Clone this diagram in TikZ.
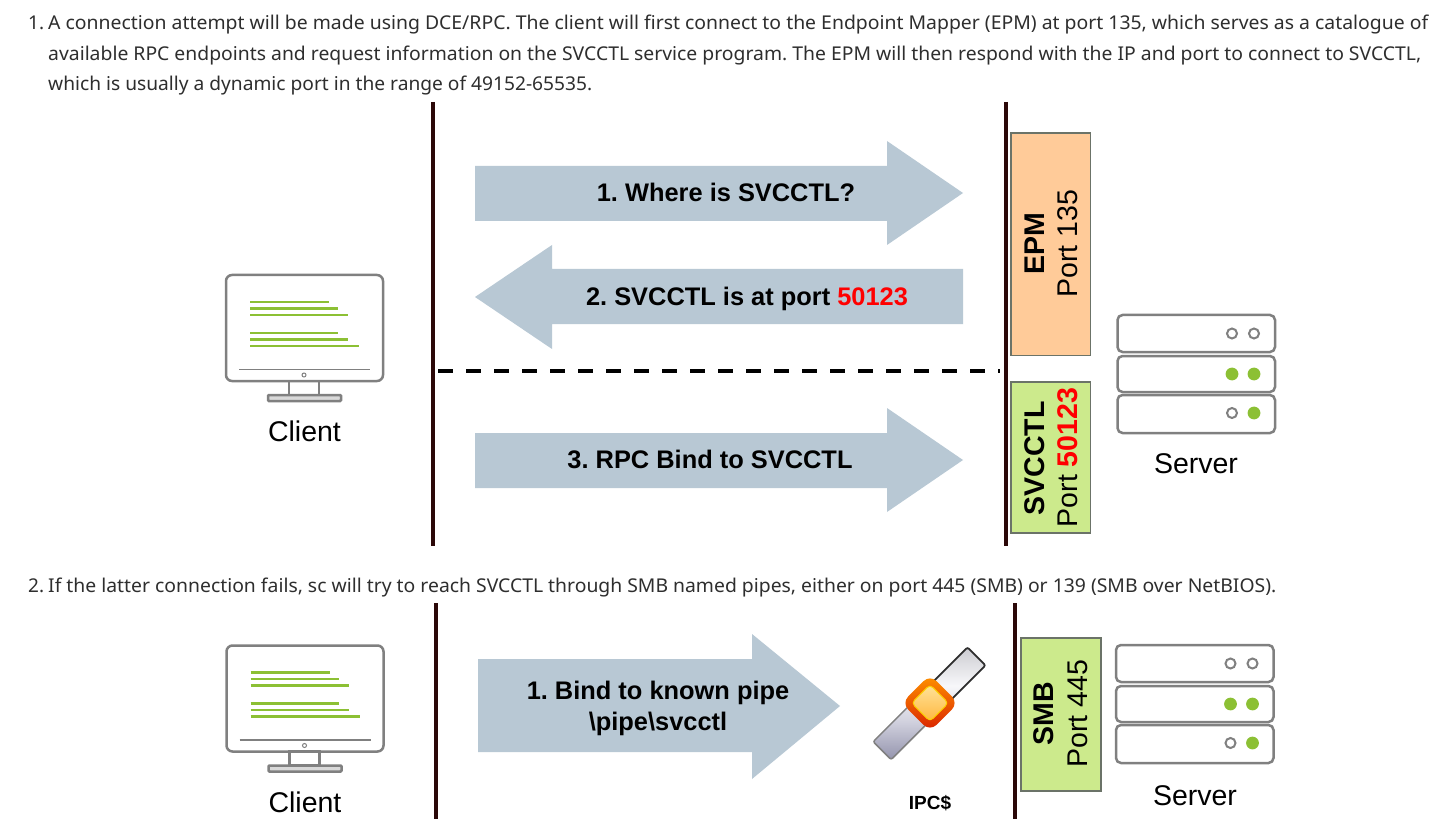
\documentclass[tikz,border=0pt]{standalone}
\usepackage{fontspec}
\setmainfont{Liberation Sans}
\newfontfamily\bodyfont{Noto Sans}
\definecolor{bodytxt}{HTML}{2E2E2E}
\definecolor{bar}{HTML}{2B0808}
\definecolor{arrowfill}{HTML}{B8C8D4}
\definecolor{orangebox}{HTML}{FFCB99}
\definecolor{greenbox}{HTML}{CCEA8C}
\definecolor{boxedge}{HTML}{6B7368}
\definecolor{icongray}{HTML}{808080}
\definecolor{icongreen}{HTML}{8CC034}
\definecolor{portred}{HTML}{FF0000}
\pgfdeclareverticalshading{pipeshade}{100bp}{rgb(0bp)=(.58,.58,.68); rgb(25bp)=(.58,.58,.68); rgb(42bp)=(.82,.82,.87); rgb(58bp)=(.97,.97,.98); rgb(75bp)=(.80,.80,.82); rgb(100bp)=(.80,.80,.82)}
\newcommand{\fitline}[2]{\resizebox{#1pt}{\height}{\fontsize{19pt}{22pt}\bodyfont #2}}
\tikzset{
  x=1pt,y=-1pt,
  bodyline/.style={anchor=base west,inner sep=0pt,text=bodytxt,font=\fontsize{19pt}{22pt}\bodyfont},
  vbar/.style={draw=bar,line width=4pt},
  sep/.style={draw=black,line width=4pt,dash pattern=on 15pt off 13pt},
  blockarrow/.style={fill=arrowfill,draw=none},
  arrowtext/.style={font=\fontsize{25.4pt}{29pt}\selectfont\bfseries,align=center,inner sep=0pt},
  portbox/.style={draw=boxedge,line width=1.2pt},
  porttext/.style={rotate=90,inner sep=0pt,font=\fontsize{28.5pt}{32pt}\selectfont},
  portname/.style={porttext,font=\fontsize{28.5pt}{32pt}\selectfont\bfseries},
  iconline/.style={draw=icongray,line width=2.5pt},
  greenline/.style={draw=icongreen,line width=2.4pt},
  iconlabel/.style={inner sep=0pt,font=\fontsize{28.5pt}{32pt}\selectfont},
  rack/.style={draw=icongray,line width=2.5pt,fill=white,rounded corners=5pt},
  ledoff/.style={draw=icongray,line width=2pt,fill=white},
  ledon/.style={fill=icongreen,draw=none},
  clientpic/.pic={
    \draw[iconline,rounded corners=6pt] (0,0) rectangle (157,106);
    \draw[greenline] (24,27) -- ++(79,0);
    \draw[greenline] (24,33.5) -- ++(88,0);
    \draw[greenline] (24,40) -- ++(98,0);
    \draw[greenline] (24,58) -- ++(88,0);
    \draw[greenline] (24,64.5) -- ++(98,0);
    \draw[greenline] (24,71) -- ++(109,0);
    \draw[draw=icongray,line width=1.5pt] (13,94.5) -- (144,94.5);
    \draw[draw=icongray,line width=1pt] (78,100) circle (2);
    \draw[iconline] (63,106) rectangle (93,120);
    \draw[iconline,fill=icongray!30,rounded corners=1pt] (42,120) rectangle (115,126);
  },
  serverpic/.pic={
    \draw[rack] (0,0) rectangle (157.5,37);
    \draw[rack] (0,41) rectangle (157.5,77);
    \draw[rack] (0,80) rectangle (157.5,118);
    \draw[ledoff] (114.5,18.5) circle (5);
    \draw[ledoff] (136.5,18.5) circle (5);
    \fill[ledon] (114.5,59) circle (6.4);
    \fill[ledon] (136.5,59) circle (6.4);
    \draw[ledoff] (114.5,98) circle (5);
    \fill[ledon] (136.5,98) circle (6.4);
  },
}
\begin{document}
\frenchspacing
\begin{tikzpicture}
\useasboundingbox (0,0) rectangle (1436,837);
\fill[white] (0,0) rectangle (1436,837);

% text
\node[bodyline] (n1) at (28,30) {1.};
\node[bodyline] (t1) at (48,30) {\fitline{1380}{A connection attempt will be made using DCE/RPC. The client will first connect to the Endpoint Mapper (EPM) at port 135, which serves as a catalogue of}};
\node[bodyline] (t2) at (48,61) {\fitline{1373}{available RPC endpoints and request information on the SVCCTL service program. The EPM will then respond with the IP and port to connect to SVCCTL,}};
\node[bodyline] (t3) at (48,91) {\fitline{544}{which is usually a dynamic port in the range of 49152-65535.}};
\node[bodyline] (n2) at (28,592) {2.};
\node[bodyline] (t4) at (48,592) {\fitline{1228}{If the latter connection fails, sc will try to reach SVCCTL through SMB named pipes, either on port 445 (SMB) or 139 (SMB over NetBIOS).}};

% first diagram
\draw[vbar] (433,102) -- (433,546);
\draw[vbar] (1005.5,102) -- (1005.5,546);
\coordinate (sepL) at (438,371);
\coordinate (sepR) at (1000,371);
\draw[sep] (sepL) -- (sepR);

\fill[blockarrow] (475,166) -- (887,166) -- (887,141) -- (963,193) -- (887,245) -- (887,221) -- (475,221) -- cycle;
\node[arrowtext] (a1) at (726,192) {1. Where is SVCCTL?};
\fill[blockarrow] (963,269) -- (552,269) -- (552,245) -- (475,297) -- (552,349) -- (552,324) -- (963,324) -- cycle;
\node[arrowtext] (a2) at (747,299) {2. SVCCTL is at port \textcolor{portred}{50123}};
\fill[blockarrow] (475,433) -- (887,433) -- (887,408) -- (963,460) -- (887,512) -- (887,488) -- (475,488) -- cycle;
\node[arrowtext] (a3) at (710,459) {3. RPC Bind to SVCCTL};

\draw[portbox,fill=orangebox] (1011,133) rectangle (1090.5,355.5);
\node[portname] (epm) at (1035,244) {EPM};
\node[porttext] (p135) at (1068,243.5) {Port 135};
\draw[portbox,fill=greenbox] (1011,382) rectangle (1090.5,533);
\node[portname] (svc) at (1035,458.5) {SVCCTL};
\node[porttext] (p50123) at (1068,457.5) {Port \textbf{\textcolor{portred}{50123}}};

\pic (c1) at (226,275) {clientpic};
\node[iconlabel] (client1) at (304.5,431) {Client};
\pic (s1) at (1117.5,315) {serverpic};
\node[iconlabel] (server1) at (1196,464) {Server};

% second diagram
\draw[vbar] (436,603) -- (436,819);
\draw[vbar] (1015,603) -- (1015,819);

\fill[blockarrow] (478,659) -- (752,659) -- (752,634) -- (840,706) -- (752,779) -- (752,752) -- (478,752) -- cycle;
\node[arrowtext] (a4) at (658,708.5) {1. Bind to known pipe\\[2pt]\textbackslash pipe\textbackslash svcctl};

\node[rotate=45,minimum width=133pt,minimum height=25pt,inner sep=0pt,shading=pipeshade,rounded corners=2pt] (pipe) at (929.3,703.5) {};
\draw[draw=black!50,line width=1.5pt,rounded corners=2pt] (pipe.north) -- (pipe.north west) -- (pipe.south west) -- (pipe.south);
\draw[draw=black!82,line width=1.8pt,rounded corners=2pt] (pipe.north) -- (pipe.north east) -- (pipe.south east) -- (pipe.south);
\node[rotate=45,minimum size=40pt,inner sep=0pt,rounded corners=9pt,shading angle=-45,
  top color=orange!85!yellow,bottom color=red!70!orange!85!black] (joint) at (930,703) {};
\node[rotate=45,minimum size=26pt,inner sep=0pt,rounded corners=4pt,shading angle=-45,
  top color=yellow!45!orange!40!white,bottom color=orange!75!yellow!75!white,draw=yellow!70!orange,line width=1pt] (core) at (930,703) {};
\node[inner sep=0pt,font=\fontsize{19pt}{22pt}\selectfont\bfseries] (ipc) at (930,803) {IPC\$};

\draw[portbox,fill=greenbox] (1021,638) rectangle (1101,791);
\node[portname] (smb) at (1044,714) {SMB};
\node[porttext] (p445) at (1078,713.5) {Port 445};

\pic (c2) at (226.5,645.5) {clientpic};
\node[iconlabel] (client2) at (305,802) {Client};
\pic (s2) at (1116,645) {serverpic};
\node[iconlabel] (server2) at (1195,796) {Server};
\end{tikzpicture}
\end{document}
